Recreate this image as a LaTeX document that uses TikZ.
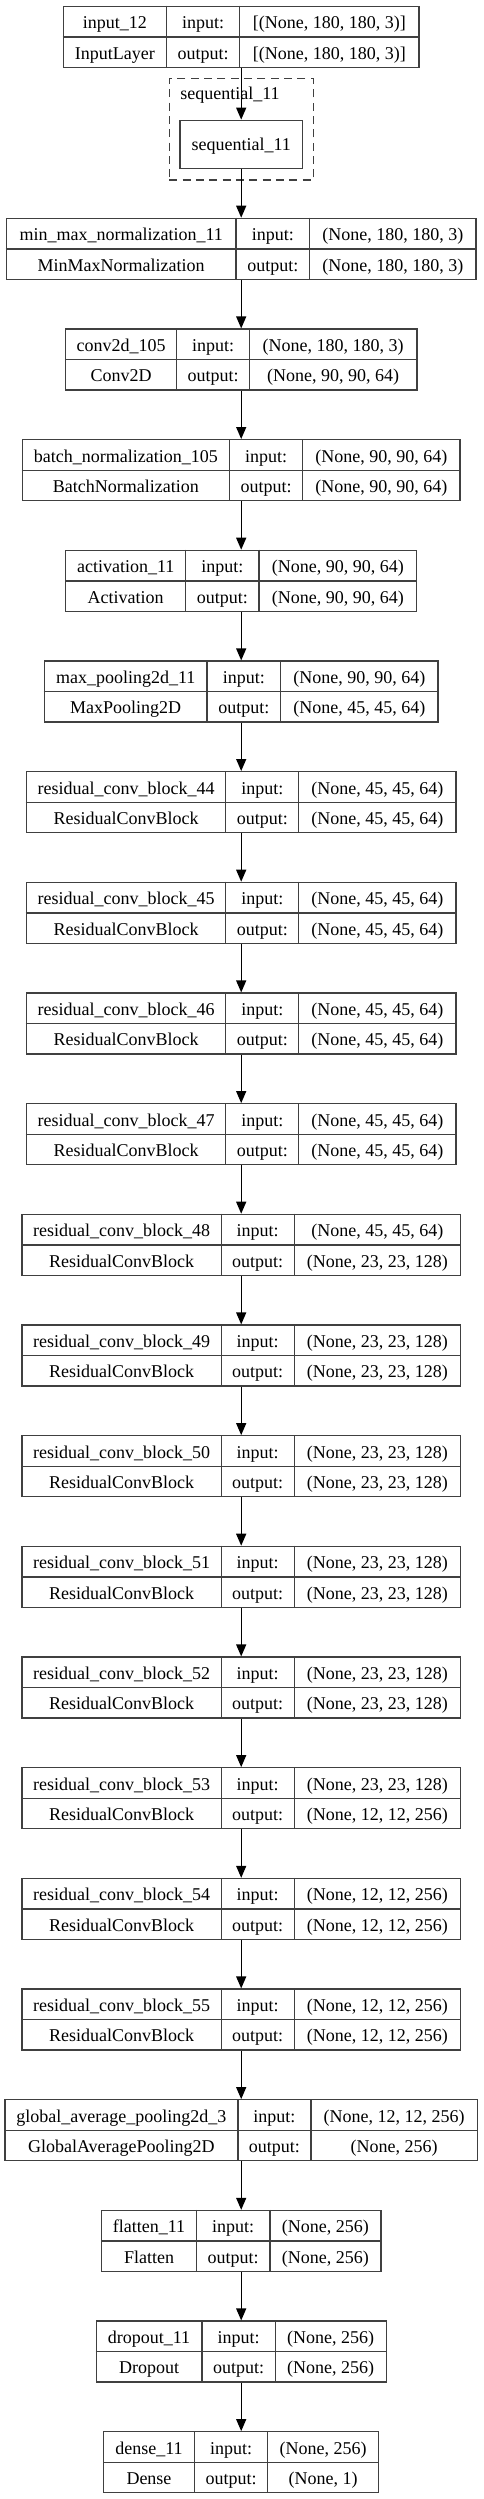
\documentclass[tikz,border=0pt]{standalone}
\usepackage{fontspec}
\setmainfont{Liberation Serif}
\usetikzlibrary{arrows.meta}

\tikzset{
    recbox/.style={draw=black!75, line width=1pt, minimum height=45.75pt, inner sep=0pt, anchor=north},
    recline/.style={draw=black!75, line width=1pt},
    cell/.style={font=\fontsize{13.5}{16}\selectfont, inner sep=0pt, anchor=base},
    cluster/.style={draw=black!75, line width=1pt, dash pattern=on 6pt off 4pt, inner sep=0pt},
    flow/.style={-{Triangle[length=9pt,width=7.5pt]}, line width=1pt, black},
}

% one keras layer record: name, top y, three column widths, four texts
\newcommand{\kerasrow}[9]{%
    \pgfmathsetmacro{\wall}{#3+#4+#5}%
    \pgfmathsetmacro{\xa}{241.2-\wall/2}%
    \pgfmathsetmacro{\xb}{\xa+#3}%
    \pgfmathsetmacro{\xc}{\xb+#4}%
    \pgfmathsetmacro{\xd}{\xc+#5}%
    \node[recbox, minimum width={\wall*0.75pt}] (#1) at (241.2,#2) {};
    \draw[recline] (#1.west) -- (#1.east);
    \draw[recline] (\xb,#2) -- (\xb,{#2+61});
    \draw[recline] (\xc,#2) -- (\xc,{#2+61});
    \node[cell] (#1-name) at ({(\xa+\xb)/2},{#2+23}) {#6};
    \node[cell] (#1-class) at ({(\xa+\xb)/2},{#2+53.5}) {#7};
    \node[cell] (#1-inlab) at ({(\xb+\xc)/2},{#2+23}) {input:};
    \node[cell] (#1-outlab) at ({(\xb+\xc)/2},{#2+53.5}) {output:};
    \node[cell] (#1-in) at ({(\xc+\xd)/2},{#2+23}) {#8};
    \node[cell] (#1-out) at ({(\xc+\xd)/2},{#2+53.5}) {#9};
}

\begin{document}
\begin{tikzpicture}[x=0.75pt, y=-0.75pt]
    \useasboundingbox (0,0) rectangle (483,2499);

    \kerasrow{input12}{5.7}{103}{73.4}{179.3}{input\_12}{InputLayer}{[(None, 180, 180, 3)]}{[(None, 180, 180, 3)]}

    % nested model
    \node[cluster, minimum width=108pt, minimum height=76pt] (seqgroup) at (241.3,129.4) {};
    \node[cell, anchor=base west] (seqgroup-label) at (180,99.3) {sequential\_11};
    \node[recline, draw, inner sep=0pt, minimum width=92pt, minimum height=36pt] (seq11) at (241.2,144.3) {};
    \node[cell] (seq11-name) at (241.2,150.5) {sequential\_11};

    \kerasrow{minmax}{217.7}{229.7}{73.6}{166.4}{min\_max\_normalization\_11}{MinMaxNormalization}{(None, 180, 180, 3)}{(None, 180, 180, 3)}
    \kerasrow{conv}{328.4}{111}{73}{167.3}{conv2d\_105}{Conv2D}{(None, 180, 180, 3)}{(None, 90, 90, 64)}
    \kerasrow{bnorm}{439.0}{207}{73.4}{157.3}{batch\_normalization\_105}{BatchNormalization}{(None, 90, 90, 64)}{(None, 90, 90, 64)}
    \kerasrow{act}{549.7}{120}{73.3}{157.7}{activation\_11}{Activation}{(None, 90, 90, 64)}{(None, 90, 90, 64)}
    \kerasrow{pool}{660.4}{162.7}{73.7}{157.3}{max\_pooling2d\_11}{MaxPooling2D}{(None, 90, 90, 64)}{(None, 45, 45, 64)}
    \kerasrow{res44}{771.0}{199.4}{73}{157.3}{residual\_conv\_block\_44}{ResidualConvBlock}{(None, 45, 45, 64)}{(None, 45, 45, 64)}
    \kerasrow{res45}{881.7}{199.4}{73}{157.3}{residual\_conv\_block\_45}{ResidualConvBlock}{(None, 45, 45, 64)}{(None, 45, 45, 64)}
    \kerasrow{res46}{992.4}{199.4}{73}{157.3}{residual\_conv\_block\_46}{ResidualConvBlock}{(None, 45, 45, 64)}{(None, 45, 45, 64)}
    \kerasrow{res47}{1103.1}{199.4}{73}{157.3}{residual\_conv\_block\_47}{ResidualConvBlock}{(None, 45, 45, 64)}{(None, 45, 45, 64)}
    \kerasrow{res48}{1213.7}{199.3}{73}{166.3}{residual\_conv\_block\_48}{ResidualConvBlock}{(None, 45, 45, 64)}{(None, 23, 23, 128)}
    \kerasrow{res49}{1324.4}{199.3}{73}{166.3}{residual\_conv\_block\_49}{ResidualConvBlock}{(None, 23, 23, 128)}{(None, 23, 23, 128)}
    \kerasrow{res50}{1435.1}{199.3}{73}{166.3}{residual\_conv\_block\_50}{ResidualConvBlock}{(None, 23, 23, 128)}{(None, 23, 23, 128)}
    \kerasrow{res51}{1545.7}{199.3}{73}{166.3}{residual\_conv\_block\_51}{ResidualConvBlock}{(None, 23, 23, 128)}{(None, 23, 23, 128)}
    \kerasrow{res52}{1656.4}{199.3}{73}{166.3}{residual\_conv\_block\_52}{ResidualConvBlock}{(None, 23, 23, 128)}{(None, 23, 23, 128)}
    \kerasrow{res53}{1767.1}{199.3}{73}{166.3}{residual\_conv\_block\_53}{ResidualConvBlock}{(None, 23, 23, 128)}{(None, 12, 12, 256)}
    \kerasrow{res54}{1877.8}{199.3}{73}{166.3}{residual\_conv\_block\_54}{ResidualConvBlock}{(None, 12, 12, 256)}{(None, 12, 12, 256)}
    \kerasrow{res55}{1988.4}{199.3}{73}{166.3}{residual\_conv\_block\_55}{ResidualConvBlock}{(None, 12, 12, 256)}{(None, 12, 12, 256)}
    \kerasrow{gap}{2099.1}{233}{73}{166.6}{global\_average\_pooling2d\_3}{GlobalAveragePooling2D}{(None, 12, 12, 256)}{(None, 256)}
    \kerasrow{flat}{2209.8}{95}{73.3}{111}{flatten\_11}{Flatten}{(None, 256)}{(None, 256)}
    \kerasrow{drop}{2320.4}{105.7}{73.3}{111}{dropout\_11}{Dropout}{(None, 256)}{(None, 256)}
    \kerasrow{dense}{2431.1}{90.6}{73.4}{111}{dense\_11}{Dense}{(None, 256)}{(None, 1)}

    % connections
    \draw[flow] (input12.south) -- (seq11.north);
    \draw[flow] (seq11.south) -- (minmax.north);
    \draw[flow] (minmax.south) -- (conv.north);
    \draw[flow] (conv.south) -- (bnorm.north);
    \draw[flow] (bnorm.south) -- (act.north);
    \draw[flow] (act.south) -- (pool.north);
    \draw[flow] (pool.south) -- (res44.north);
    \draw[flow] (res44.south) -- (res45.north);
    \draw[flow] (res45.south) -- (res46.north);
    \draw[flow] (res46.south) -- (res47.north);
    \draw[flow] (res47.south) -- (res48.north);
    \draw[flow] (res48.south) -- (res49.north);
    \draw[flow] (res49.south) -- (res50.north);
    \draw[flow] (res50.south) -- (res51.north);
    \draw[flow] (res51.south) -- (res52.north);
    \draw[flow] (res52.south) -- (res53.north);
    \draw[flow] (res53.south) -- (res54.north);
    \draw[flow] (res54.south) -- (res55.north);
    \draw[flow] (res55.south) -- (gap.north);
    \draw[flow] (gap.south) -- (flat.north);
    \draw[flow] (flat.south) -- (drop.north);
    \draw[flow] (drop.south) -- (dense.north);
\end{tikzpicture}
\end{document}
